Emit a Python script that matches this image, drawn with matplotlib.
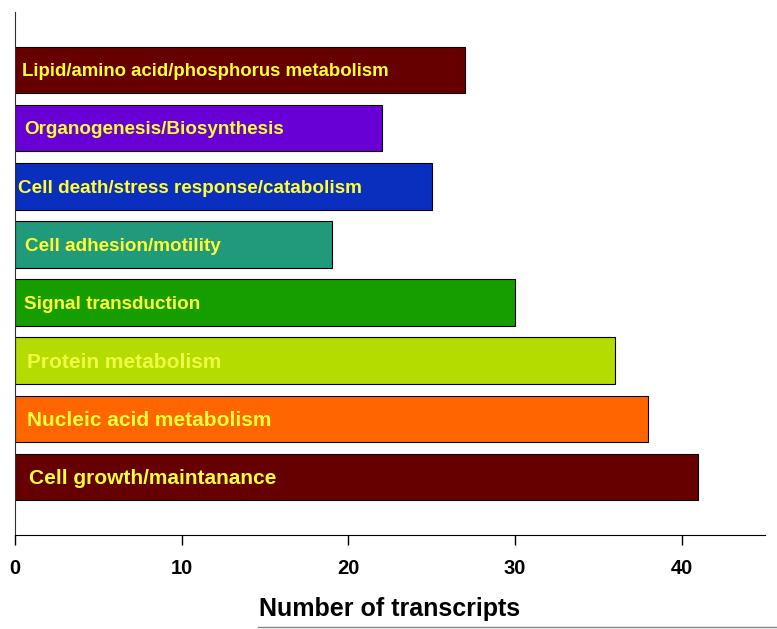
import numpy as np
from matplotlib import pyplot as plt
from matplotlib.lines import Line2D

categories = ['Cell growth/maintanance', 'Nucleic acid metabolism', 'Protein metabolism',
              'Signal transduction', 'Cell adhesion/motility',
              'Cell death/stress response/catabolism', 'Organogenesis/Biosynthesis',
              'Lipid/amino acid/phosphorus metabolism']
counts = [41, 38, 36, 30, 19, 25, 22, 27]
colors = ['#660000', '#ff6600', '#b4dc00', '#169e00', '#209a7a', '#0a2ebe', '#6800d6', '#660000']
text_colors = ['#ffff33', '#ffff33', '#eeff44', '#ffff33', '#ffff33', '#ffff33', '#ffff33', '#ffff33']
label_sizes = [15, 15, 15, 13.6, 13.6, 13.6, 13.6, 13.4]
label_pad = [0.85, 0.7, 0.7, 0.55, 0.6, 0.2, 0.55, 0.4]

plt.rcParams['font.family'] = ['Liberation Sans', 'DejaVu Sans']

fig = plt.figure(figsize=(7.77, 6.29), dpi=100)
ax = fig.add_axes([15/777, 94/629, 750/777, 523/629])

pos = np.arange(len(categories))
ax.barh(pos, counts, height=0.8, color=colors, edgecolor='black', linewidth=0.8)

for p, name, s, pad, tc in zip(pos, categories, label_sizes, label_pad, text_colors):
    ax.text(pad, p - 0.03, name, color=tc, fontsize=s, fontweight='bold', va='center', ha='left')

ax.set_xlim(0, 45)
ax.set_ylim(-1, 8)
ax.set_yticks([])
ax.set_xticks([0, 10, 20, 30, 40])
ax.tick_params(axis='x', direction='out', length=7, width=1, labelsize=14.5, pad=10)
for lab in ax.get_xticklabels():
    lab.set_fontweight('bold')
ax.spines['top'].set_visible(False)
ax.spines['right'].set_visible(False)
ax.spines['left'].set_color('#333333')
ax.set_xlabel('Number of transcripts', fontsize=18, fontweight='bold', labelpad=14)

fig.add_artist(Line2D([258/777, 1], [2/629, 2/629], color='#888888', linewidth=1))

fig.savefig('out.png', dpi=100)
